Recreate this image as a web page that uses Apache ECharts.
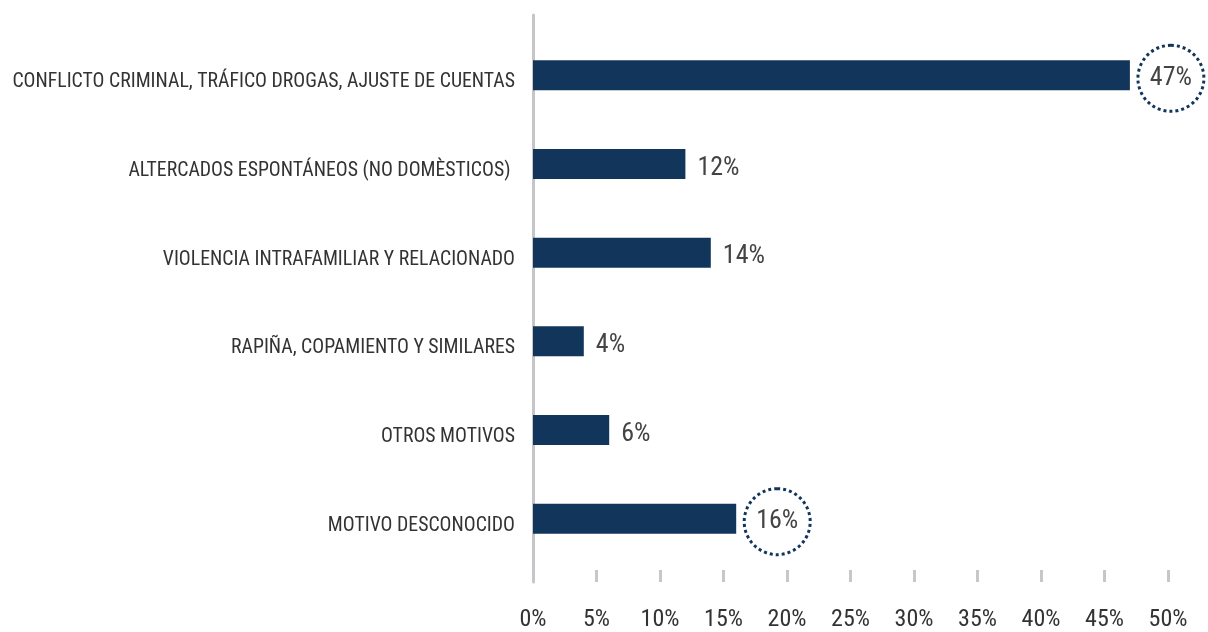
<!DOCTYPE html>
<html><head><meta charset="utf-8">
<script src="https://cdn.jsdelivr.net/npm/echarts@6/dist/echarts.min.js"></script>
<style>html,body{margin:0;padding:0;background:#fff}#c{width:1208px;height:632px}</style>
</head><body><div id="c"></div>
<script>
var categories = [
  'CONFLICTO CRIMINAL, TRÁFICO DROGAS, AJUSTE DE CUENTAS',
  'ALTERCADOS ESPONTÁNEOS (NO DOMÈSTICOS) ',
  'VIOLENCIA INTRAFAMILIAR Y RELACIONADO',
  'RAPIÑA, COPAMIENTO Y SIMILARES',
  'OTROS MOTIVOS',
  'MOTIVO DESCONOCIDO'
];
var values = [47, 12, 14, 4, 6, 16];
var highlighted = [0, 5];

var FONT = "'Roboto Condensed', 'Liberation Sans Narrow', 'DejaVu Sans Condensed', Roboto, sans-serif";
var NAVY = '#12355b';

var barData = values.map(function (v, i) {
  if (highlighted.indexOf(i) >= 0) {
    return {
      value: v,
      label: {
        align: 'center',
        verticalAlign: 'middle',
        distance: 41,
        offset: [0, 3],
        width: 64,
        height: 64,
        lineHeight: 64,
        borderRadius: 34,
        borderWidth: 3,
        borderType: 'dotted',
        borderColor: NAVY,
        padding: 1
      }
    };
  }
  return v;
});

var chart = echarts.init(document.getElementById('c'));
chart.setOption({
  animation: false,
  textStyle: { fontFamily: FONT },
  grid: [
    { left: 533, right: 40, top: 15, bottom: 39 },
    { left: 533, right: 40, top: 31, bottom: 69 }
  ],
  xAxis: [
    {
      gridIndex: 0, type: 'value', min: 0, max: 50, interval: 5,
      axisLine: { show: false },
      axisTick: { show: true, inside: true, length: 12, lineStyle: { color: '#c6c6cc', width: 3 } },
      splitLine: { show: false },
      axisLabel: { formatter: '{value}%', fontSize: 24, color: '#333', margin: 26, fontFamily: FONT }
    },
    { gridIndex: 1, type: 'value', min: 0, max: 50, show: false }
  ],
  yAxis: [
    {
      gridIndex: 0, type: 'value', min: 0, max: 1,
      axisLine: { show: true, lineStyle: { color: '#c6c6c8', width: 3 } },
      axisTick: { show: false }, axisLabel: { show: false }, splitLine: { show: false }
    },
    {
      gridIndex: 1, type: 'category', inverse: true, data: categories,
      axisLine: { show: false }, axisTick: { show: false },
      axisLabel: {
        margin: 18,
        formatter: '{a|{value}}',
        rich: { a: { fontSize: 19.8, color: '#333', padding: [14, 0, 0, 0], fontFamily: FONT } }
      }
    }
  ],
  series: [{
    type: 'bar', xAxisIndex: 1, yAxisIndex: 1,
    data: barData,
    barWidth: 30,
    itemStyle: { color: NAVY },
    label: {
      show: true, position: 'right', distance: 12, offset: [0, 4],
      formatter: '{c}%', fontSize: 26, color: '#444', fontFamily: FONT
    }
  }]
});
</script></body></html>
